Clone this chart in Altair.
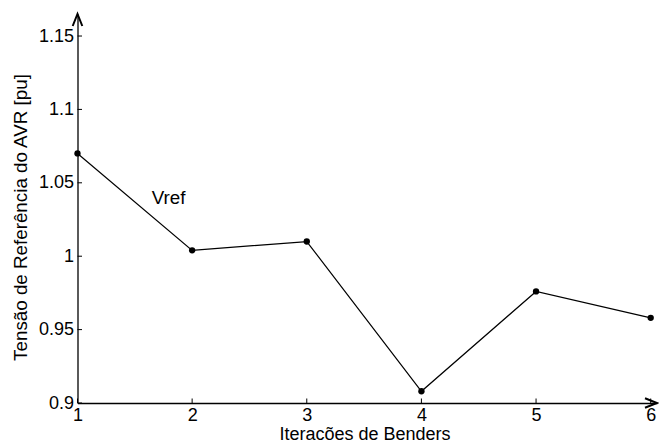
import altair as alt
import pandas as pd

# ---- data ----
iterations = [1, 2, 3, 4, 5, 6]
vref = [1.070, 1.004, 1.010, 0.908, 0.976, 0.958]
x_tick_values = [1, 2, 3, 4, 5, 6]
y_tick_values = [0.9, 0.95, 1.0, 1.05, 1.1, 1.15]
x_domain = [1, 6.055]
y_domain = [0.9, 1.165]
label_text = ["Vref"]
label_x = [1.647]
label_y = [1.0356]

W, H = 579.5, 389
FONT = "Liberation Sans"
FS = 18
TFS = 18.8

df = pd.DataFrame({"it": iterations, "v": vref})
xs = alt.Scale(domain=x_domain, nice=False, zero=False)
ys = alt.Scale(domain=y_domain, nice=False, zero=False)

x_axis = alt.Axis(
    values=x_tick_values, format="d", ticks=False, grid=False,
    domain=True, domainColor="black", domainWidth=1.3,
    labelFont=FONT, labelFontSize=FS, labelColor="black", labelPadding=3,
    labelFlush=False, labelOverlap=False,
    title="Iteracões de Benders", titleFont=FONT, titleFontSize=FS,
    titleFontWeight="normal", titleColor="black",
    titleX=287, titleY=36.5, titleAlign="center", titleBaseline="alphabetic",
)
y_axis = alt.Axis(
    values=y_tick_values, format="~g", ticks=False, grid=False,
    domain=True, domainColor="black", domainWidth=1.3,
    labelFont=FONT, labelFontSize=FS, labelColor="black", labelPadding=4,
    labelFlush=False, labelOverlap=False,
    title="Tensão de Referência do AVR [pu]", titleFont=FONT, titleFontSize=TFS,
    titleFontWeight="normal", titleColor="black",
    titleX=-51, titleY=203, titleAngle=270, titleAlign="center",
    titleBaseline="alphabetic",
)

X = lambda f: alt.X(f, scale=xs, axis=x_axis)
Y = lambda f: alt.Y(f, scale=ys, axis=y_axis)

line = alt.Chart(df).mark_line(color="black", strokeWidth=1.2).encode(
    x=X("it:Q"), y=Y("v:Q"),
)
pts = alt.Chart(df).mark_circle(size=40, color="black", opacity=1).encode(
    x=X("it:Q"), y=Y("v:Q"),
)

xt = alt.Chart(pd.DataFrame({"it": x_tick_values})).mark_rule(
    color="black", strokeWidth=1
).encode(x=X("it:Q"), y=alt.value(H), y2=alt.value(H - 4.5))
yt = alt.Chart(pd.DataFrame({"v": y_tick_values})).mark_rule(
    color="black", strokeWidth=1
).encode(y=Y("v:Q"), x=alt.value(0), x2=alt.value(4.5))

arrow_up = alt.Chart(pd.DataFrame({"it": [x_domain[0]], "v": [y_domain[1]]})).mark_point(
    shape="M-0.8,2L0,0L0.8,2", size=144, filled=False, stroke="black",
    strokeWidth=2, opacity=1,
).encode(x=X("it:Q"), y=Y("v:Q"))
arrow_right = alt.Chart(pd.DataFrame({"it": [x_domain[1]], "v": [y_domain[0]]})).mark_point(
    shape="M-2,-0.8L0,0L-2,0.8", size=144, filled=False, stroke="black",
    strokeWidth=2, opacity=1,
).encode(x=X("it:Q"), y=Y("v:Q"))

txt = alt.Chart(pd.DataFrame({"it": label_x, "v": label_y, "t": label_text})).mark_text(
    align="left", baseline="alphabetic", font=FONT, fontSize=TFS, color="black"
).encode(x=X("it:Q"), y=Y("v:Q"), text="t:N")

chart = (
    alt.layer(line, xt, yt, pts, arrow_up, arrow_right, txt)
    .properties(
        width=W, height=H, autosize="none",
        padding={"left": 69.5, "top": 6, "right": 2, "bottom": 37},
        background="white",
    )
    .configure_view(stroke=None)
)

chart.save("out.html", embed_options={"renderer": "svg", "actions": False})
